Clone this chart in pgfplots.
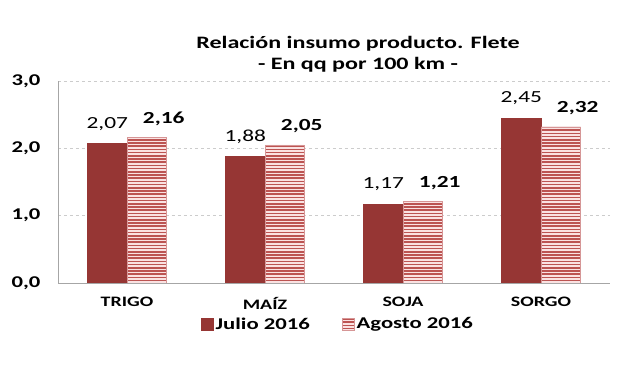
\documentclass[border=0pt]{standalone}
\usepackage{pgfplots}
\pgfplotsset{compat=1.18}
\usetikzlibrary{patterns}
\usepackage{fontspec}
\setmainfont{Carlito}[FakeStretch=1.38]
\definecolor{julio}{RGB}{150,54,52}
\definecolor{agline}{RGB}{188,84,82}
\definecolor{agfill}{RGB}{250,226,226}
\definecolor{agedge}{RGB}{214,150,150}
\pgfdeclarepatternformonly{hstripes}{\pgfpoint{-1bp}{0bp}}{\pgfpoint{101bp}{3.2bp}}{\pgfpoint{100bp}{3.2bp}}{%
  \pgfsetlinewidth{1.5bp}%
  \pgfpathmoveto{\pgfpoint{-1bp}{1.6bp}}%
  \pgfpathlineto{\pgfpoint{101bp}{1.6bp}}%
  \pgfusepath{stroke}}
\begin{document}
\begin{tikzpicture}
\path[use as bounding box] (0,0) rectangle (620bp,375bp);
\begin{axis}[
  at={(58bp,92bp)}, anchor=south west,
  scale only axis, width=552bp, height=202bp,
  ybar=0pt, bar width=39.5bp,
  xmin=-0.5, xmax=3.5, ymin=0, ymax=3,
  xtick={0,1,2,3},
  xticklabels={TRIGO,MAÍZ,SOJA,SORGO},
  ytick={0,1,2,3},
  /pgf/number format/assume math mode=true,
  y tick label style={/pgf/number format/.cd, fixed, fixed zerofill, precision=1, use comma, /tikz/.cd, font=\bfseries\fontsize{16.5}{18}\selectfont, xshift=-14bp},
  x tick label style={font=\bfseries\fontsize{14.5}{17}\selectfont, yshift=-11bp},
  major tick length=0pt,
  axis x line*=bottom, axis y line*=left,
  axis line style={draw=black!35, line width=0.9pt},
  ymajorgrids, major grid style={dashed, draw=black!20, line width=0.8pt},
  title={Relación insumo producto. Flete\\- En qq por 100 km -},
  title style={align=center, font=\bfseries\fontsize{17.5}{21.5}\selectfont, at={(0.5435,1)}, anchor=south, inner sep=0pt, yshift=2.5bp},
  nodes near coords={\pgfmathprintnumber[fixed,fixed zerofill,precision=2,use comma]{\pgfplotspointmeta}},
  legend style={draw=none, at={(0.507,-0.203)}, anchor=center, legend columns=2,
    font=\bfseries\fontsize{16.5}{19}\selectfont,
    /tikz/every even column/.append style={column sep=30bp}},
  legend image code/.code={\draw[#1] (0bp,-6bp) rectangle (12.5bp,6bp);},
]
\addplot[fill=julio, draw=julio,
  every node near coord/.append style={font=\fontsize{17}{20}\selectfont, anchor=south, inner sep=0pt, yshift=13bp}]
  coordinates {(0,2.07) (1,1.88) (2,1.17) (3,2.45)};
\addlegendentry{Julio 2016}
\addplot[fill=agfill, draw=agedge,
  postaction={pattern=hstripes, pattern color=agline},
  every node near coord/.append style={font=\bfseries\fontsize{17}{20}\selectfont, anchor=south, inner sep=0pt, yshift=12bp, xshift=17bp}]
  coordinates {(0,2.16) (1,2.05) (2,1.21) (3,2.32)};
\addlegendentry{Agosto 2016}
\end{axis}
\end{tikzpicture}
\end{document}
